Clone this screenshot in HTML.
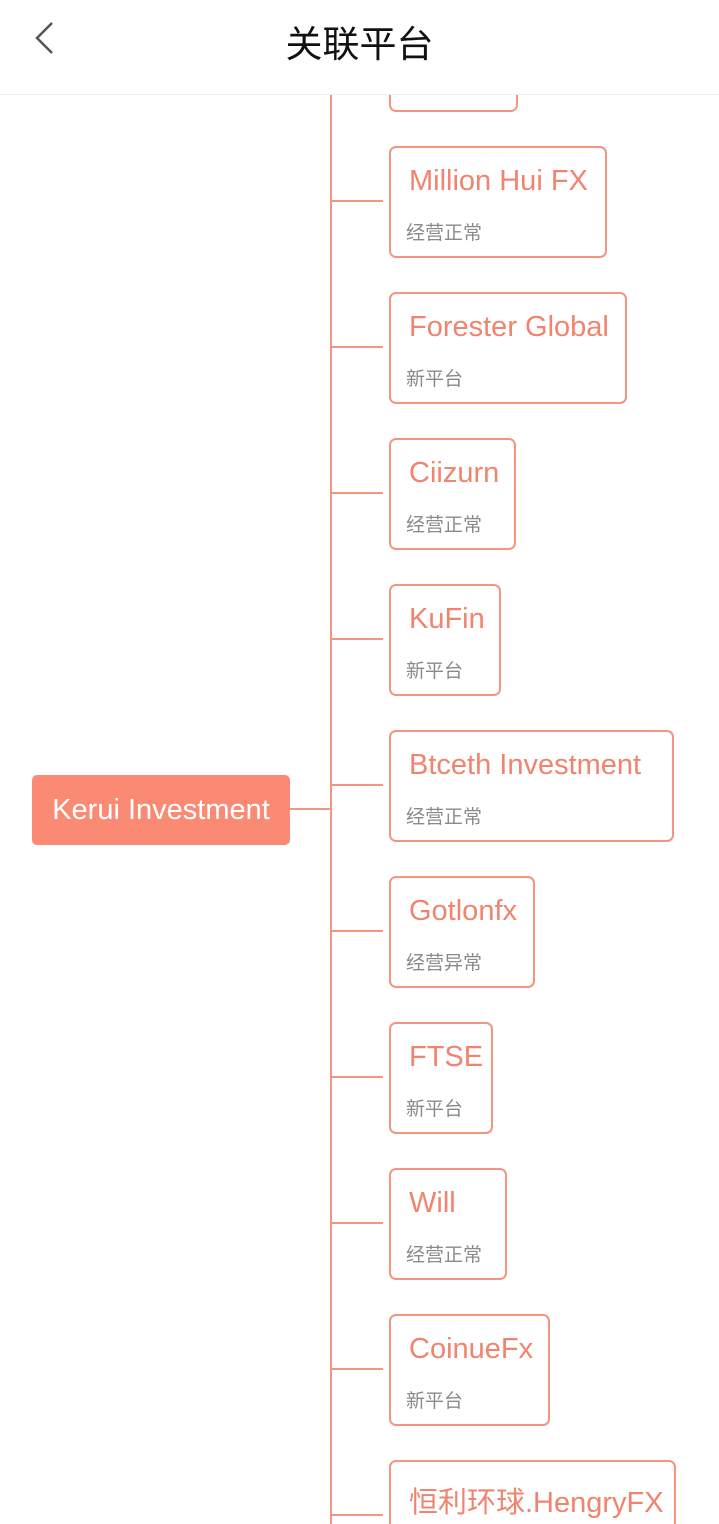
<!DOCTYPE html>
<html style="overflow:hidden;height:1524px"><head><meta charset="utf-8"><style>
html,body{margin:0;overflow:hidden}
body{width:719px;height:1524px;position:relative;background:#fff;font-family:"Liberation Sans","Noto Sans CJK SC",sans-serif}
.hdr{position:absolute;left:0;top:0;width:719px;height:94px;background:#fff;border-bottom:1px solid #eee;z-index:5}
.hdr .t{position:absolute;left:0;width:719px;top:14px;text-align:center;font-size:37px;color:#111}
.vl{position:absolute;left:330px;top:0;width:2px;height:1524px;background:#f29680}
.hl{position:absolute;left:331px;width:52px;height:2px;background:#f29680}
.box{position:absolute;left:389px;height:108px;border:2px solid #f29680;border-radius:7px;box-sizing:content-box;background:transparent}
.box .a{position:absolute;left:18px;top:17px;font-size:29px;color:#f0846e;white-space:nowrap}
.box .b{position:absolute;left:15px;top:70px;font-size:19px;color:#8a8a8a;white-space:nowrap}
.ctr{position:absolute;left:32px;top:775px;width:258px;height:70px;background:#fa8a74;border-radius:5px;color:#fff;font-size:29px;line-height:70px;text-align:center}
</style></head><body>
<div class="vl"></div>
<div class="hl" style="left:290px;width:41px;top:808px"></div>
<div class="ctr">Kerui Investment</div>
<div class="box" style="top:-2px;width:125px;height:110px"></div>
<div class="hl" style="top:200px"></div><div class="box" style="top:146px;width:214px"><div class="a">Million Hui FX</div><div class="b">经营正常</div></div>
<div class="hl" style="top:346px"></div><div class="box" style="top:292px;width:234px"><div class="a">Forester Global</div><div class="b">新平台</div></div>
<div class="hl" style="top:492px"></div><div class="box" style="top:438px;width:123px"><div class="a">Ciizurn</div><div class="b">经营正常</div></div>
<div class="hl" style="top:638px"></div><div class="box" style="top:584px;width:108px"><div class="a">KuFin</div><div class="b">新平台</div></div>
<div class="hl" style="top:784px"></div><div class="box" style="top:730px;width:281px"><div class="a">Btceth Investment</div><div class="b">经营正常</div></div>
<div class="hl" style="top:930px"></div><div class="box" style="top:876px;width:142px"><div class="a">Gotlonfx</div><div class="b">经营异常</div></div>
<div class="hl" style="top:1076px"></div><div class="box" style="top:1022px;width:100px"><div class="a">FTSE</div><div class="b">新平台</div></div>
<div class="hl" style="top:1222px"></div><div class="box" style="top:1168px;width:114px"><div class="a">Will</div><div class="b">经营正常</div></div>
<div class="hl" style="top:1368px"></div><div class="box" style="top:1314px;width:157px"><div class="a">CoinueFx</div><div class="b">新平台</div></div>
<div class="hl" style="top:1514px"></div><div class="box" style="top:1460px;width:283px;height:80px"><div class="a">恒利环球.HengryFX</div></div>
<div class="hdr"><svg style="position:absolute;left:32px;top:20px" width="26" height="36"><polyline points="20,3 5,18 20,33" fill="none" stroke="#555" stroke-width="2.5"/></svg><div class="t">关联平台</div></div>
</body></html>
